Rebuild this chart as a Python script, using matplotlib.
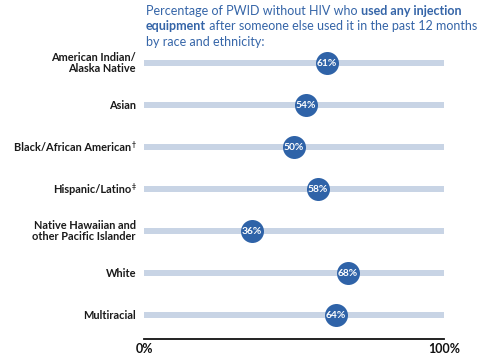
import matplotlib
matplotlib.use("Agg")
import matplotlib.pyplot as plt

categories = ["American Indian/\nAlaska Native", "Asian", "Black/African American",
              "Hispanic/Latino", "Native Hawaiian and\nother Pacific Islander",
              "White", "Multiracial"]
footnote_marks = ["", "", "\u2020", "\u2021", "", "", ""]
values = [61, 54, 50, 58, 36, 68, 64]
tick_values = [0, 100]
tick_labels = ["0%", "100%"]

FONT = "Lato"
BLUE = "#2F63A8"
TITLE_BLUE = "#3565A8"
BAR = "#C8D4E5"

fig = plt.figure(figsize=(4.79, 3.6), dpi=100)
ax = fig.add_axes([144/479, 1-339/360, 300/479, 297/360])
n = len(categories)
ys = list(range(n))
ax.barh(ys, [100]*n, height=0.14, color=BAR, left=0, zorder=1)
ax.scatter(values, ys, s=(23*0.72)**2, color=BLUE, zorder=3, linewidths=0)
for v, y in zip(values, ys):
    ax.text(v, y, f"{v}%", color="white", ha="center", va="center",
            fontsize=7.4, fontweight="bold", family=FONT, zorder=4)
ax.set_xlim(0, 100)
ax.set_ylim(6 + 24/42, -0.5)
for s in ["top", "right", "left"]:
    ax.spines[s].set_visible(False)
ax.spines["bottom"].set_linewidth(1.3)
ax.spines["bottom"].set_color("#111111")
ax.set_xticks(tick_values)
ax.set_xticklabels(tick_labels, fontsize=9, fontweight="bold", family=FONT, color="#111111")
ax.tick_params(axis="x", length=0, pad=3)
ax.set_yticks([])

fig.canvas.draw()
renderer = fig.canvas.get_renderer()

# category labels (with small superscript footnote marks)
right_px = 136
for cat, mark, y in zip(categories, footnote_marks, ys):
    ydisp = ax.transData.transform((0, y))[1]
    x = right_px
    if mark:
        m = fig.text(x/479, ydisp/360 + 2.5/360, mark, fontsize=5, fontweight="bold",
                     family=FONT, color="#1a1a1a", ha="right", va="center")
        x -= m.get_window_extent(renderer).width + 0.5
    fig.text(x/479, ydisp/360, cat, fontsize=7.9, fontweight="bold", family=FONT,
             color="#1a1a1a", ha="right", va="center", linespacing=1.0,
             multialignment="right")

# Title with mixed weights
lines = [
    [("Percentage of PWID without HIV who ", "normal"), ("used any injection", "bold")],
    [("equipment", "bold"), (" after someone else used it in the past 12 months", "normal")],
    [("by race and ethnicity:", "normal")],
]
x0 = 146
baselines = [15, 30.5, 46]
for parts, yb in zip(lines, baselines):
    x = x0
    for txt, w in parts:
        t = fig.text(x/479, 1-yb/360, txt, fontsize=9.0, fontweight=w, family=FONT,
                     color=TITLE_BLUE, ha="left", va="baseline")
        bb = t.get_window_extent(renderer)
        x += bb.width
fig.savefig("out.png", dpi=100)
